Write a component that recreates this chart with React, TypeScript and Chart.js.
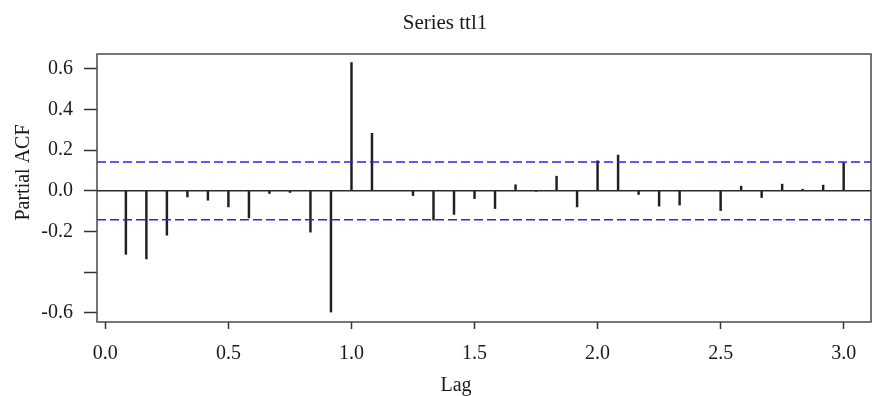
import { useEffect, useRef } from "react";
import { Chart, registerables } from "chart.js";

Chart.register(...registerables);

// Lags in months (plotted as lag in years = months / 12)
const lagMonths = [
  1, 2, 3, 4, 5, 6, 7, 8, 9, 10, 11, 12,
  13, 14, 15, 16, 17, 18, 19, 20, 21, 22, 23, 24,
  25, 26, 27, 28, 29, 30, 31, 32, 33, 34, 35, 36,
];

const pacfValues = [
  -0.312, -0.335, -0.218, -0.030, -0.046, -0.079, -0.133, -0.013, -0.008, -0.203, -0.596, 0.631,
  0.283, 0.002, -0.023, -0.144, -0.116, -0.038, -0.087, 0.030, -0.002, 0.072, -0.079, 0.148,
  0.176, -0.018, -0.075, -0.070, 0.002, -0.097, 0.023, -0.033, 0.033, 0.008, 0.028, 0.138,
];

const confBound = 0.142;

const xTickValues = [0, 0.5, 1, 1.5, 2, 2.5, 3];
const xTickLabels = ["0.0", "0.5", "1.0", "1.5", "2.0", "2.5", "3.0"];
const yTickValues = [-0.6, -0.4, -0.2, 0, 0.2, 0.4, 0.6];
const yTickLabels = ["-0.6", "", "-0.2", "0.0", "0.2", "0.4", "0.6"];

const xMin = -0.034;
const xMax = 3.111;
const yMin = -0.645;
const yMax = 0.673;

const titleText = "Series ttl1";
const xTitle = "Lag";
const yTitle = "Partial ACF";

const FONT = '"Liberation Serif", "Times New Roman", serif';

export default function App() {
  const ref = useRef<HTMLCanvasElement>(null);

  useEffect(() => {
    if (!ref.current) return;

    const boxPlugin = {
      id: "boxPlugin",
      afterDatasetsDraw(chart: any) {
        const { ctx, chartArea } = chart;
        const { left, top, right, bottom } = chartArea;
        ctx.save();
        ctx.strokeStyle = "#4a4a4a";
        ctx.lineWidth = 1.5;
        ctx.strokeRect(left, top, right - left, bottom - top);
        ctx.restore();
      },
    };

    const textPlugin = {
      id: "textPlugin",
      afterDraw(chart: any) {
        const { ctx } = chart;
        ctx.save();
        ctx.fillStyle = "#1a1a1a";
        ctx.textAlign = "center";
        ctx.textBaseline = "alphabetic";
        ctx.font = `21px ${FONT}`;
        ctx.fillText(titleText, 445, 29);
        ctx.font = `20px ${FONT}`;
        ctx.fillText(xTitle, 456, 391);
        ctx.translate(28.5, 172.5);
        ctx.rotate(-Math.PI / 2);
        ctx.fillText(yTitle, 0, 0);
        ctx.restore();
      },
    };

    const spikes = lagMonths.map((m, i) => ({ x: m / 12, y: pacfValues[i] }));

    const chart = new Chart(ref.current, {
      type: "bar",
      data: {
        datasets: [
          {
            type: "line",
            data: [
              { x: xMin, y: 0 },
              { x: xMax, y: 0 },
            ],
            borderColor: "#2a2a2a",
            borderWidth: 1.5,
            pointRadius: 0,
          },
          {
            type: "line",
            data: [
              { x: xMin, y: confBound },
              { x: xMax, y: confBound },
            ],
            borderColor: "#2626f0",
            borderWidth: 1.5,
            borderDash: [9, 4],
            pointRadius: 0,
          },
          {
            type: "line",
            data: [
              { x: xMin, y: -confBound },
              { x: xMax, y: -confBound },
            ],
            borderColor: "#2626f0",
            borderWidth: 1.5,
            borderDash: [9, 4],
            pointRadius: 0,
          },
          {
            type: "bar",
            data: spikes,
            backgroundColor: "#1f1f1f",
            barThickness: 1.8,
          },
        ] as any,
      },
      options: {
        responsive: false,
        animation: false,
        layout: { padding: { top: 54, right: 1, left: 0, bottom: 0 } },
        plugins: {
          legend: { display: false },
          tooltip: { enabled: false },
          title: { display: false },
        },
        scales: {
          x: {
            type: "linear",
            min: xMin,
            max: xMax,
            offset: false,
            afterBuildTicks: (s: any) => {
              s.ticks = xTickValues.map((v) => ({ value: v }));
            },
            afterFit: (s: any) => {
              s.height = 74;
            },
            grid: {
              display: true,
              offset: false,
              drawOnChartArea: false,
              drawTicks: true,
              tickLength: 7,
              tickColor: "#333",
              tickWidth: 1.5,
            },
            border: { display: false },
            ticks: {
              autoSkip: false,
              maxRotation: 0,
              padding: 13,
              color: "#1a1a1a",
              font: { family: FONT, size: 20 },
              callback: (v: any) => {
                const i = xTickValues.findIndex((t) => Math.abs(t - Number(v)) < 1e-9);
                return i >= 0 ? xTickLabels[i] : "";
              },
            },
          },
          y: {
            type: "linear",
            min: yMin,
            max: yMax,
            afterBuildTicks: (s: any) => {
              s.ticks = yTickValues.map((v) => ({ value: v }));
            },
            afterFit: (s: any) => {
              s.width = 97;
            },
            grid: {
              display: true,
              drawOnChartArea: false,
              drawTicks: true,
              tickLength: 13,
              tickColor: "#333",
              tickWidth: 1.5,
            },
            border: { display: false },
            ticks: {
              autoSkip: false,
              padding: 11,
              color: "#1a1a1a",
              font: { family: FONT, size: 20 },
              callback: (v: any) => {
                const i = yTickValues.findIndex((t) => Math.abs(t - Number(v)) < 1e-9);
                return i >= 0 ? yTickLabels[i] : "";
              },
            },
          },
        },
      } as any,
      plugins: [boxPlugin, textPlugin],
    });

    return () => chart.destroy();
  }, []);

  return (
    <div style={{ position: "absolute", left: 0, top: 0, width: 872, height: 396, background: "#fff" }}>
      <canvas ref={ref} width={872} height={396} style={{ display: "block" }} />
    </div>
  );
}
